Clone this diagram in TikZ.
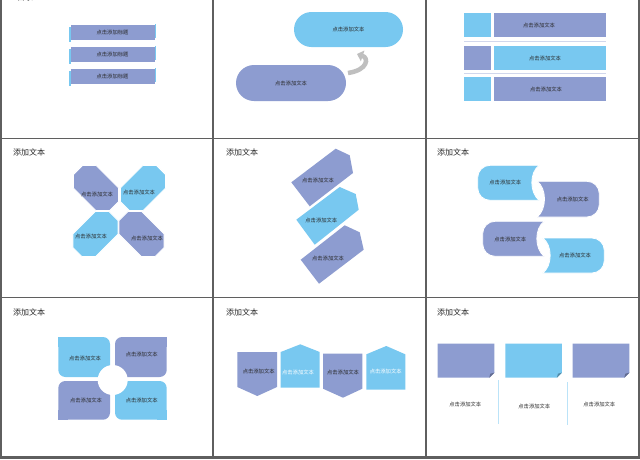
\documentclass[tikz,border=0pt]{standalone}
\usepackage{fontspec}
\setmainfont{Noto Sans CJK SC}
\usetikzlibrary{arrows.meta}
\definecolor{pur}{RGB}{141,156,208}
\definecolor{sky}{RGB}{120,200,240}
\definecolor{gridc}{RGB}{95,95,95}
\definecolor{txt}{RGB}{40,40,40}
\begin{document}
\begin{tikzpicture}[x=1pt,y=-1pt,
  lbl/.style={font=\fontsize{5.3}{6}\selectfont, text=txt, inner sep=0pt},
  wlbl/.style={lbl, text=white},
  ttl/.style={font=\fontsize{8}{9}\selectfont, text=txt, inner sep=0pt, anchor=west},
  pf/.style={fill=pur}, sf/.style={fill=sky},
  wb/.style={draw=white, line width=0.8},
  petal/.pic={\path[pic actions] (-16,-16) -- (16,-16) -- (25.5,-6.5) -- (25.5,6.5) -- (16,16) -- (-16,16) -- (-25.5,6.5) -- (-25.5,-6.5) -- cycle;}]
\useasboundingbox (0,0) rectangle (640,459);
\fill[white] (0,0) rectangle (640,459);

% ---------- panel 1 ----------
\node[ttl] (t1) at (17,-2) {目录};
\foreach \y/\n in {25/a,47/b,69/c}{
  \fill[sky] (69.3,\y+2) rectangle (71,\y+16.5);
  \fill[sky] (154.5,\y-1.5) rectangle (156.2,\y+13);
  \fill[pur] (70.5,\y) rectangle (155,\y+15);
  \node[lbl] (b\n) at (112.5,\y+7.5) {点击添加标题};
}

% ---------- panel 2 ----------
\fill[sky, rounded corners=17.5] (294,12) rectangle (403,47);
\node[lbl] (p2a) at (348.5,29.5) {点击添加文本};
\fill[pur, rounded corners=18] (236,65) rectangle (346,101);
\node[lbl] (p2b) at (291,83) {点击添加文本};
\draw[line width=4.5, black!25, -{Triangle[length=6,width=11]}] (348,73) .. controls (368,70) and (369,58) .. (357,54);

% ---------- panel 3 ----------
\fill[sky] (464,13) rectangle (491,37);
\fill[pur] (494,13) rectangle (606,37);
\node[lbl] (p3a) at (539,25) {点击添加文本};
\draw[line width=0.8, pur!40] (464,41) -- (606,41);
\fill[pur] (464,46) rectangle (491,70);
\fill[sky] (494,46) rectangle (606,70);
\node[lbl] (p3b) at (545,58) {点击添加文本};
\draw[line width=0.8, pur!40] (464,73.5) -- (606,73.5);
\fill[sky] (464,77) rectangle (491,101);
\fill[pur] (494,77) rectangle (606,101);
\node[lbl] (p3c) at (546,89) {点击添加文本};

% ---------- panel 4 ----------
\node[ttl] (t4) at (13,152) {添加文本};
\pic[pf, wb, rotate=-45] at (96,188) {petal};
\pic[sf, wb, rotate=45] at (143,188) {petal};
\pic[sf, wb, rotate=45] at (95.5,234) {petal};
\pic[pf, wb, rotate=-45] at (141.5,234) {petal};
\node[lbl] (p4a) at (97,194) {点击添加文本};
\node[lbl] (p4b) at (139,192) {点击添加文本};
\node[lbl] (p4c) at (91,236) {点击添加文本};
\node[lbl] (p4d) at (147,238) {点击添加文本};

% ---------- panel 5 ----------
\node[ttl] (t5) at (226,152) {添加文本};
\fill[pur] (291.3,182.3) -- (335.7,148.7) -- (349.7,155.3) -- (353,173) -- (309.7,206.3) -- cycle;
\node[lbl] (p5a) at (318,180) {点击添加文本};
\fill[sky] (296.3,219.7) -- (339.7,187) -- (355.7,194) -- (358.7,209.7) -- (314.7,244.7) -- cycle;
\node[lbl] (p5b) at (321.3,220.3) {点击添加文本};
\fill[pur] (300.7,259.7) -- (344.7,225.3) -- (359.7,232.3) -- (363.7,249.7) -- (319,283.7) -- cycle;
\node[lbl] (p5c) at (328,258) {点击添加文本};

% ---------- panel 6 ----------
\node[ttl] (t6) at (437,152) {添加文本};
% S2 purple
\path[pf, wb] (537,181.3) -- (587,181.3) arc[start angle=270,end angle=360,radius=12.3] -- (599.3,204.7) arc[start angle=0,end angle=90,radius=12.3] -- (537,217) .. controls (547,210) and (547,188) .. cycle;
% S1 blue
\path[sf, wb] (539.3,165.3) -- (490,165.3) arc[start angle=270,end angle=180,radius=12.3] -- (477.7,188) arc[start angle=180,end angle=90,radius=12.3] -- (539.3,200.3) .. controls (529.3,193) and (529.3,172) .. cycle;
\node[lbl] (p6a) at (505.3,182.3) {点击添加文本};
\node[lbl] (p6b) at (572.7,199.7) {点击添加文本};
% S4 blue
\path[sf, wb] (542.7,238) -- (592,238) arc[start angle=270,end angle=360,radius=12.3] -- (604.3,260.7) arc[start angle=0,end angle=90,radius=12.3] -- (542.7,273) .. controls (552.7,266) and (552.7,245) .. cycle;
% S3 purple
\path[pf, wb] (544.3,221.3) -- (495,221.3) arc[start angle=270,end angle=180,radius=12.3] -- (482.7,244) arc[start angle=180,end angle=90,radius=12.3] -- (544.3,256.3) .. controls (534.3,249) and (534.3,228) .. cycle;
\node[lbl] (p6c) at (510.3,239) {点击添加文本};
\node[lbl] (p6d) at (575,255.3) {点击添加文本};

% ---------- panel 7 ----------
\node[ttl] (t7) at (13,312) {添加文本};
\fill[sky, rounded corners=7] (58.3,337) rectangle (110,377);
\fill[sky] (58.3,337) rectangle (68,347);
\fill[pur, rounded corners=7] (115,337) rectangle (166.7,377);
\fill[pur] (157,337) rectangle (166.7,347);
\fill[pur, rounded corners=7] (58.3,381) rectangle (110,419.7);
\fill[pur] (58.3,410) rectangle (68,419.7);
\fill[sky, rounded corners=7] (115,381) rectangle (166.7,419.7);
\fill[sky] (157,410) rectangle (166.7,419.7);
\fill[white] (112.7,380) circle[radius=15];
\node[lbl] (p7a) at (85,358) {点击添加文本};
\node[lbl] (p7b) at (141.7,354.3) {点击添加文本};
\node[lbl] (p7c) at (86,400.3) {点击添加文本};
\node[lbl] (p7d) at (141.7,400.3) {点击添加文本};

% ---------- panel 8 ----------
\node[ttl] (t8) at (226,312) {添加文本};
\fill[pur] (237.3,352) -- (277,352) -- (277,387) -- (257.3,396) -- (237.3,387) -- cycle;
\node[lbl] (p8a) at (258.7,371) {点击添加文本};
\fill[sky] (280.7,352) -- (300.3,344.3) -- (319.7,352) -- (319.7,387.7) -- (280.7,387.7) -- cycle;
\node[wlbl] (p8b) at (298,372.7) {点击添加文本};
\fill[pur] (323,353.7) -- (362.3,353.7) -- (362.3,388.7) -- (343,397.7) -- (323,388.7) -- cycle;
\node[lbl] (p8c) at (343,372.7) {点击添加文本};
\fill[sky] (366.3,354.3) -- (386.3,346) -- (405.3,354.3) -- (405.3,389.7) -- (366.3,389.7) -- cycle;
\node[wlbl] (p8d) at (385.7,371) {点击添加文本};

% ---------- panel 9 ----------
\node[ttl] (t9) at (437,312) {添加文本};
\foreach \x/\c/\n in {437.7/pur/a,505.3/sky/b,572.7/pur/c}{
  \fill[\c] (\x,343.7) -- (\x+56.6,343.7) -- (\x+56.6,372.7) -- (\x+51.6,377.7) -- (\x,377.7) -- cycle;
  \fill[\c!70!black] (\x+56.6,372.7) -- (\x+51.6,377.7) -- (\x+52.6,373.7) -- cycle;
}
\draw[line width=1, sky!50] (498.7,380) -- (498.7,423.7);
\draw[line width=1, sky!50] (567.7,382) -- (567.7,424.7);
\node[lbl] (p9a) at (465.3,404.3) {点击添加文本};
\node[lbl] (p9b) at (534.3,406) {点击添加文本};
\node[lbl] (p9c) at (599.3,404.3) {点击添加文本};

% ---------- grid ----------
\draw[gridc, line width=1.5] (213,0) -- (213,459) (426,0) -- (426,459)
  (0,138.5) -- (640,138.5) (0,297.5) -- (640,297.5);
\draw[gridc, line width=2.5] (1,0) -- (1,459) (639,0) -- (639,459) (0,457.5) -- (640,457.5);
\end{tikzpicture}
\end{document}
